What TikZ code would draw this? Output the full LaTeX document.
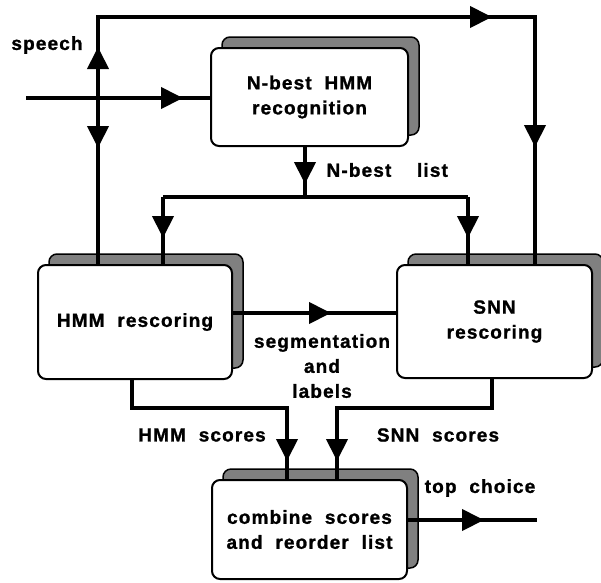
\documentclass[tikz,border=0pt]{standalone}
\usepackage{fontspec}
\setmainfont{Liberation Sans}[LetterSpace=6,WordSpace=2,BoldFeatures={FakeBold=1.2}]
\usepackage{tikz}
\usetikzlibrary{arrows.meta,decorations.markings,shadows,patterns}

\begin{document}
\begin{tikzpicture}[x=1pt, y=-1pt,
    every node/.style={font=\bfseries\fontsize{19}{25}\selectfont},
    stage/.style={draw=black, line width=2pt, fill=white, rounded corners=8pt,
        align=center, inner sep=0pt,
        general shadow={shadow xshift=11pt, shadow yshift=11pt, draw=black,
            line width=1.5pt, fill=black!50}},
    flow/.style={black, line width=4pt},
    arrowat/.style={postaction={decorate, decoration={markings,
        mark=at position #1 with {\arrow{Triangle[length=22pt,width=21pt]}}}}}]
    \useasboundingbox (0,0) rectangle (601,582);
    \node[stage, minimum width=197pt, minimum height=98pt] (nbest) at (309.5,97) {N-best HMM\\recognition};
    \node[stage, minimum width=194pt, minimum height=114pt] (hmmr) at (135,322) {HMM rescoring};
    \node[stage, minimum width=195pt, minimum height=113pt] (snnr) at (494.5,321.5) {SNN\\rescoring};
    \node[stage, minimum width=195pt, minimum height=99pt] (comb) at (309.5,529.5) {combine scores\\and reorder list};
    \coordinate (sp) at (26,98);
    \coordinate (split) at (98,98);
    \coordinate (tl) at (98,17);
    \coordinate (tr) at (535,17);
    \coordinate (nb) at (305,197);
    \coordinate (dl) at (163,197);
    \coordinate (dr) at (468,197);
    \coordinate (seg) at (320,313);
    \coordinate (hl) at (132,408);
    \coordinate (hr) at (287,408);
    \coordinate (sr) at (492,408);
    \coordinate (sl) at (337,408);
    \coordinate (out) at (537,520);
    % speech and loops
    \draw [flow, arrowat=157pt] (sp) -- (sp -| nbest.west);
    \draw [flow, arrowat=51pt, arrowat=475pt, arrowat=648pt] (split) -- (tl) -- (tr) -- (tr |- snnr.north);
    \draw [flow, arrowat=50pt] (split) -- (split |- hmmr.north);
    % n-best list
    \draw [flow, arrowat=37pt] (nb |- nbest.south) -- (nb);
    \draw [flow] (dl) -- (dr);
    \draw [flow, arrowat=41pt] (dl) -- (dl |- hmmr.north);
    \draw [flow, arrowat=41pt] (dr) -- (dr |- snnr.north);
    \draw [flow, arrowat=98pt] (seg -| hmmr.east) -- (seg -| snnr.west);
    % scores
    \draw [flow, arrowat=236pt] (hl |- hmmr.south) -- (hl) -- (hr) -- (hr |- comb.north);
    \draw [flow, arrowat=237pt] (sr |- snnr.south) -- (sr) -- (sl) -- (sl |- comb.north);
    \draw [flow, arrowat=76pt] (out -| comb.east) -- (out);
    % labels
    \node (speech) at (47,45) {speech};
    \node[anchor=west] (nblist) at (323,170) {N-best \ list};
    \node[align=center] (seglab) at (322,366) {segmentation\\and\\labels};
    \node (hmmsc) at (202,435) {HMM scores};
    \node (snnsc) at (438,435) {SNN scores};
    \node (top) at (480,488) {top choice};
\end{tikzpicture}
\end{document}
